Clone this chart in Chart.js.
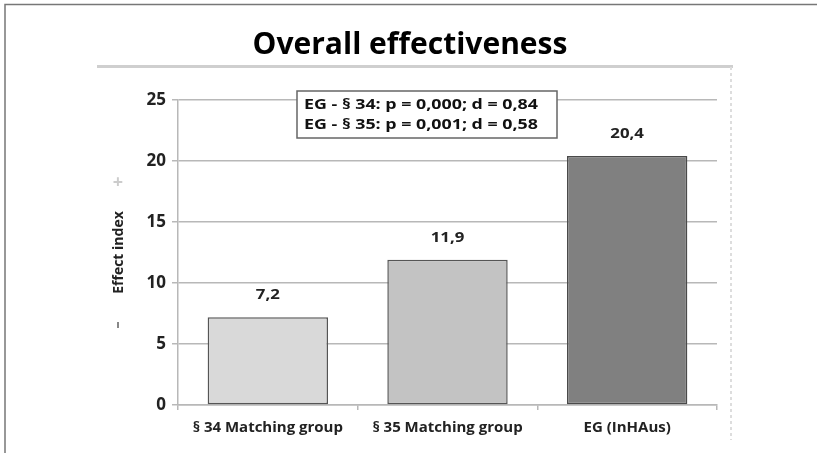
<!DOCTYPE html>
<html>
<head>
<meta charset="utf-8">
<script src="https://cdn.jsdelivr.net/npm/chart.js@4.4.1/dist/chart.umd.min.js"></script>
<style>
  html, body { margin: 0; padding: 0; background: #fff; }
  #wrap { width: 817px; height: 453px; position: relative; }
</style>
</head>
<body>
<div id="wrap"><canvas id="effChart"></canvas></div>
<script>
const categories = ["§ 34 Matching group", "§ 35 Matching group", "EG (InHAus)"];
const effectValues = [7.2, 11.9, 20.4];
const barColors = ["#d9d9d9", "#c3c3c3", "#808080"];
const yTicks = [0, 5, 10, 15, 20, 25];
const statLines = ["EG - § 34: p = 0,000; d = 0,84", "EG - § 35: p = 0,001; d = 0,58"];

const FONT = "'Open Sans', 'Noto Sans', sans-serif";
const gridGray = "#b8b8b8";

const fmt = (v) => v.toFixed(1).replace(".", ",");

// draw text stretched to a given width (wide look of the original font)
const wideText = (ctx, txt, x, y, width) => {
  const w = ctx.measureText(txt).width;
  ctx.save();
  ctx.translate(x, y);
  ctx.scale(width / w, 1);
  ctx.fillText(txt, 0, 0);
  ctx.restore();
};

const decorPlugin = {
  id: "decor",
  beforeDraw(chart) {
    const ctx = chart.ctx;
    ctx.save();
    // outer frame
    ctx.strokeStyle = "#777";
    ctx.lineWidth = 1.5;
    ctx.beginPath();
    ctx.moveTo(5, 453);
    ctx.lineTo(5, 4.5);
    ctx.lineTo(817, 4.5);
    ctx.stroke();
    // line under title
    ctx.strokeStyle = "#cfcfcf";
    ctx.lineWidth = 3;
    ctx.beginPath();
    ctx.moveTo(97, 66.5);
    ctx.lineTo(733, 66.5);
    ctx.stroke();
    // dotted right line
    ctx.strokeStyle = "#dddddd";
    ctx.lineWidth = 2;
    ctx.setLineDash([3, 3]);
    ctx.beginPath();
    ctx.moveTo(731, 67);
    ctx.lineTo(731, 440);
    ctx.stroke();
    ctx.setLineDash([]);
    // title
    ctx.fillStyle = "#000";
    ctx.font = "bold 30px " + FONT;
    ctx.textAlign = "center";
    ctx.textBaseline = "middle";
    ctx.fillText("Overall effectiveness", 410, 45);
    // +/- marks
    ctx.fillStyle = "#cccccc";
    ctx.font = "bold 18px " + FONT;
    ctx.fillText("+", 118, 183);
    ctx.fillStyle = "#888";
    ctx.fillRect(117, 322, 2, 6);
    ctx.restore();
  },
  afterDatasetsDraw(chart) {
    const ctx = chart.ctx;
    ctx.save();
    // value labels
    ctx.font = "bold 15px " + FONT;
    ctx.textAlign = "left";
    ctx.textBaseline = "middle";
    chart.getDatasetMeta(0).data.forEach((bar, i) => {
      const { x, y } = bar.getProps(["x", "y"], true);
      const txt = fmt(effectValues[i]);
      const tw = ctx.measureText(txt).width * 1.12;
      ctx.fillStyle = "#fff";
      ctx.fillRect(x - tw / 2 - 5, y - 31, tw + 10, 18);
      ctx.fillStyle = "#222";
      wideText(ctx, txt, x - tw / 2, y - 22, tw);
    });
    // stats box
    const bx = 297, by = 91, bw = 260, bh = 47;
    ctx.fillStyle = "#fff";
    ctx.fillRect(bx, by, bw, bh);
    ctx.strokeStyle = "#666";
    ctx.lineWidth = 1.5;
    ctx.strokeRect(bx, by, bw, bh);
    ctx.fillStyle = "#111";
    ctx.font = "bold 14.5px " + FONT;
    statLines.forEach((s, i) => wideText(ctx, s, bx + 7, by + 14 + i * 19.5, 234));
    ctx.restore();
  }
};

new Chart(document.getElementById("effChart"), {
  type: "bar",
  data: {
    labels: categories,
    datasets: [{
      label: "Effect index",
      data: effectValues,
      backgroundColor: barColors,
      borderColor: ["#555", "#555", "#4a4a4a"],
      borderWidth: 1.5,
      borderSkipped: false,
      categoryPercentage: 1,
      barPercentage: 0.67
    }]
  },
  options: {
    responsive: true,
    maintainAspectRatio: false,
    animation: false,
    layout: { padding: { top: 100, right: 100, bottom: 0, left: 0 } },
    plugins: {
      legend: { display: false },
      tooltip: { enabled: false },
      title: { display: false }
    },
    scales: {
      x: {
        grid: {
          offset: true,
          drawOnChartArea: true,
          color: (c) => c.index === categories.length ? gridGray : "rgba(0,0,0,0)",
          tickColor: gridGray,
          tickLength: 5,
          lineWidth: 1.5
        },
        border: { color: gridGray, width: 1.5 },
        ticks: {
          color: "#222",
          font: { family: FONT, size: 15, weight: "bold" },
          padding: 9
        },
        afterFit(scale) { scale.height = 48; }
      },
      y: {
        min: 0,
        max: 25,
        afterBuildTicks(scale) { scale.ticks = yTicks.map((v) => ({ value: v })); },
        grid: { color: gridGray, lineWidth: 1.5, tickLength: 6 },
        border: { color: gridGray, width: 1.5 },
        ticks: {
          color: "#222",
          font: { family: FONT, size: 17, weight: "bold" },
          padding: 6
        },
        title: {
          display: true,
          text: "Effect index",
          color: "#222",
          font: { family: FONT, size: 14, weight: "bold" },
          padding: { top: 111, bottom: 0 }
        },
        afterFit(scale) { scale.width = 178; }
      }
    }
  },
  plugins: [decorPlugin]
});
</script>
</body>
</html>
